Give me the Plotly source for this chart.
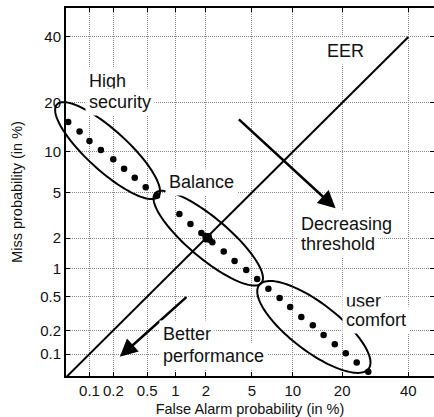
import numpy as np
import plotly.graph_objects as go
from statistics import NormalDist

# ---------------- data (percent) ----------------
tick_pct = [0.1, 0.2, 0.5, 1, 2, 5, 10, 20, 40]
tick_text = ["0.1", "0.2", "0.5", "1", "2", "5", "10", "20", "40"]

hs_far = [0.052, 0.074, 0.10, 0.14, 0.20, 0.27, 0.36, 0.48, 0.64]
hs_miss = [15.5, 13.6, 11.8, 10.3, 8.9, 7.6, 6.5, 5.5, 4.7]

bal_far = [1.1, 1.42, 1.81, 1.98, 2.07, 2.16, 2.0, 2.12, 2.03, 2.29, 2.9, 3.6, 4.5, 5.5]
bal_miss = [3.3, 2.7, 2.23, 2.10, 2.01, 1.93, 1.95, 2.08, 2.05, 1.83, 1.49, 1.2, 0.97, 0.78]

uc_far = [6.7, 8.1, 9.6, 11.4, 13.5, 15.7, 18.2, 20.9, 23.8, 27.1]
uc_miss = [0.61, 0.48, 0.38, 0.29, 0.23, 0.175, 0.134, 0.102, 0.077, 0.058]

eer_pct = [0.05, 40]

# ellipses: (center far %, center miss %, semi-major, semi-minor [normal-deviate units], tilt deg)
ellipses = [
    (0.17, 10.2, 0.611, 0.180, 42.5),
    (2.1, 2.0, 0.620, 0.180, 40.3),
    (13.7, 0.22, 0.614, 0.214, 37.6),
]

# arrows: (tail far %, tail miss %, tip far %, tip miss %)
arrows = [
    (3.8, 16.4, 18.4, 3.7),
    (1.34, 0.51, 0.24, 0.092),
]

ND = NormalDist()


def probit(vals):
    return [ND.inv_cdf(v / 100.0) for v in vals]


X_RANGE = [-3.299, -0.025]
Y_RANGE = [-3.287, 0.006]

W, H = 434, 417
ML, MR, MT, MB = 66, 0, 8, 41
PW = W - ML - MR
PH = H - MT - MB

FONT = "Liberation Sans, Arial, sans-serif"

fig = go.Figure()

# EER diagonal
fig.add_trace(go.Scatter(x=probit(eer_pct), y=probit(eer_pct), mode="lines",
                         line=dict(color="black", width=2), yaxis="y2",
                         hoverinfo="skip"))

# DET points
for fx, my in [(hs_far, hs_miss), (bal_far, bal_miss), (uc_far, uc_miss)]:
    fig.add_trace(go.Scatter(x=probit(fx), y=probit(my), mode="markers",
                             marker=dict(color="black", size=6.5),
                             cliponaxis=False))

# ellipse outlines (paper coords so they are not clipped)
shapes = []
t = np.linspace(0, 2 * np.pi, 120)
for cf, cm, a, b, ang in ellipses:
    cx, cy = probit([cf])[0], probit([cm])[0]
    phi = np.deg2rad(ang)
    ux, uy = np.cos(phi), -np.sin(phi)
    vx, vy = np.sin(phi), np.cos(phi)
    zx = cx + a * np.cos(t) * ux + b * np.sin(t) * vx
    zy = cy + a * np.cos(t) * uy + b * np.sin(t) * vy
    px = (zx - X_RANGE[0]) / (X_RANGE[1] - X_RANGE[0])
    py = (zy - Y_RANGE[0]) / (Y_RANGE[1] - Y_RANGE[0])
    path = "M " + " L ".join(f"{x:.5f},{y:.5f}" for x, y in zip(px, py)) + " Z"
    shapes.append(dict(type="path", path=path, xref="paper", yref="paper",
                       line=dict(color="black", width=2), layer="above"))

annotations = []
for tf, tm, hf, hm in arrows:
    annotations.append(dict(x=probit([hf])[0], y=probit([hm])[0],
                            ax=probit([tf])[0], ay=probit([tm])[0],
                            xref="x", yref="y", axref="x", ayref="y",
                            text="", showarrow=True, arrowhead=2,
                            arrowsize=1.4, arrowwidth=2.5, arrowcolor="black"))

PAD = 3


def label(text, left_px, center_py):
    annotations.append(dict(
        text=text, xref="paper", yref="paper",
        x=(left_px - PAD - 1 - ML) / PW, y=(H - MB - center_py) / PH,
        xanchor="left", yanchor="middle", showarrow=False,
        font=dict(family=FONT, size=18, color="#111"),
        bgcolor="white", borderpad=PAD))


label("High", 89, 81.3)
label("security", 89, 102.3)
label("Balance", 169.3, 182.3)
label("EER", 327, 51.3)
label("Decreasing", 300.7, 224)
label("threshold", 300.7, 244)
label("user", 345.5, 300.7)
label("comfort", 345.5, 320)
label("Better", 163.3, 334)
label("performance", 163.3, 355.5)

axis_common = dict(
    tickvals=probit(tick_pct), ticktext=tick_text,
    ticks="inside", ticklen=4, tickwidth=1, tickcolor="black",
    showgrid=True, gridcolor="#8a8a8a", griddash="1px,1px", gridwidth=1,
    zeroline=False,
    tickfont=dict(family=FONT, size=15, color="#111"),
)

fig.update_layout(
    width=W, height=H,
    margin=dict(l=ML, r=MR, t=MT, b=MB),
    plot_bgcolor="white", paper_bgcolor="white",
    showlegend=False,
    xaxis=dict(range=X_RANGE, showline=True, linewidth=2, linecolor="black",
               mirror="ticks",
               title=dict(text="False Alarm probability (in %)",
                          font=dict(family=FONT, size=14.5, color="#111"),
                          standoff=6),
               **axis_common),
    yaxis=dict(range=Y_RANGE, showline=True, linewidth=2, linecolor="black",
               title=dict(text="Miss probability (in %)",
                          font=dict(family=FONT, size=14.5, color="#111"),
                          standoff=14),
               **axis_common),
    yaxis2=dict(range=Y_RANGE, overlaying="y", side="right",
                tickvals=probit(tick_pct), ticks="inside", ticklen=4,
                tickwidth=1, tickcolor="black", showticklabels=False,
                showgrid=False, showline=False, zeroline=False),
    shapes=shapes,
    annotations=annotations,
)

fig.write_html("out.html",
               config={"displayModeBar": False},
               post_script="document.body.style.margin='0px';"
                           "document.documentElement.style.overflow='hidden';")
